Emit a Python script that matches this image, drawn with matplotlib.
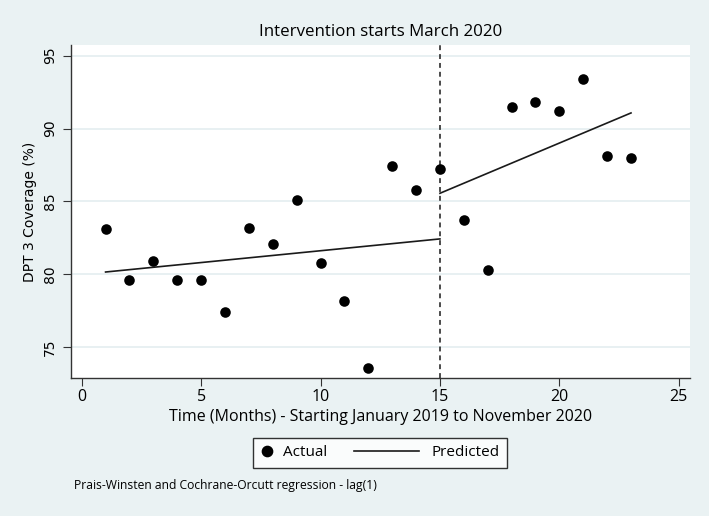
import matplotlib
matplotlib.use("Agg")
import matplotlib.pyplot as plt
from matplotlib.lines import Line2D
from matplotlib.legend_handler import HandlerLine2D

months = list(range(1, 24))
actual = [83.1, 79.6, 80.9, 79.6, 79.6, 77.4, 83.2, 82.1, 85.1, 80.8, 78.2, 73.6,
          87.4, 85.8, 87.2, 83.7, 80.3, 91.5, 91.8, 91.2, 93.4, 88.1, 88.0]
pred_x1 = [1, 15]
pred_y1 = [80.16, 82.43]
pred_x2 = [15, 23]
pred_y2 = [85.56, 91.07]
intervention = 15
xticks = [0, 5, 10, 15, 20, 25]
yticks = [75, 80, 85, 90, 95]


class LongLineHandler(HandlerLine2D):
    """Legend line that extends to the left of its (small) handle box."""
    def __init__(self, length_pt, end_inset_pt, **kw):
        super().__init__(**kw)
        self.length_pt = length_pt
        self.end_inset_pt = end_inset_pt

    def create_artists(self, legend, orig_handle, xdescent, ydescent,
                       width, height, fontsize, trans):
        x1 = -xdescent + width - self.end_inset_pt
        x0 = x1 - self.length_pt
        y = (height - ydescent) / 2
        line = Line2D([x0, x1], [y, y])
        self.update_prop(line, orig_handle, legend)
        line.set_marker("")
        line.set_transform(trans)
        return [line]


W, H = 709, 516
bg = "#EAF2F3"
fig = plt.figure(figsize=(W / 100, H / 100), dpi=100, facecolor=bg)
L, R, T, B = 70.7, 690.0, 45.0, 378.3
ax = fig.add_axes([L / W, 1 - B / H, (R - L) / W, (B - T) / H])
ax.set_facecolor("white")

for y in yticks:
    ax.axhline(y, color="#E4EEF0", lw=1.2, zorder=0)

ax.scatter(months, actual, s=58, color="black", zorder=3, label="Actual", linewidths=0)
ax.plot(pred_x1, pred_y1, color="#1a1a1a", lw=1.2, zorder=2, label="Predicted")
ax.plot(pred_x2, pred_y2, color="#1a1a1a", lw=1.2, zorder=2)
ax.axvline(intervention, color="#1a1a1a", lw=1.1, ls=(0, (3.2, 2.6)), zorder=2)

ax.set_xlim(-0.46, 25.47)
ax.set_ylim(72.87, 95.73)
ax.set_xticks(xticks)
ax.set_yticks(yticks)
ax.tick_params(axis="x", labelsize=11.5, length=6, color="#333333", pad=2)
ax.tick_params(axis="y", labelsize=10, length=6, color="#333333", pad=4)
for lab in ax.get_xticklabels():
    lab.set_family("Open Sans")
for lab in ax.get_yticklabels():
    lab.set_rotation(90)
    lab.set_va("center")
    lab.set_family("DejaVu Sans")
for s in ["top", "right"]:
    ax.spines[s].set_visible(False)
for s in ["left", "bottom"]:
    ax.spines[s].set_color("#333333")
    ax.spines[s].set_linewidth(1.0)

ax.set_title("Intervention starts March 2020", fontsize=12.2, family="Open Sans", pad=6.5)
ax.set_xlabel("Time (Months) - Starting January 2019 to November 2020",
              fontsize=11.5, family="Open Sans", va="center")
ax.xaxis.set_label_coords(0.5, (B - 416.7) / (B - T))
ax.set_ylabel("DPT 3 Coverage (%)", fontsize=10, family="DejaVu Sans", va="center")
ax.yaxis.set_label_coords((30 - L) / (R - L), 0.5)

px2pt = 72 / 100
h_actual = Line2D([], [], marker="o", color="black", ls="none", markersize=7.4)
h_pred = Line2D([], [], color="#1a1a1a", lw=1.2)
leg = fig.legend([h_actual, h_pred], ["Actual", "Predicted"], loc="center",
                 bbox_to_anchor=(380 / W, 1 - 453 / H), ncol=2, frameon=True,
                 fancybox=False, edgecolor="black", facecolor="white",
                 prop={"family": "Open Sans", "size": 11}, handlelength=0.8,
                 columnspacing=5.4, borderpad=0.5, handletextpad=0.65,
                 handler_map={h_pred: LongLineHandler(65 * px2pt, 3 * px2pt)})
leg.get_frame().set_linewidth(1.0)

fig.text(73.5 / W, 1 - 486 / H, "Prais-Winsten and Cochrane-Orcutt regression - lag(1)",
         fontsize=8.7, family="Open Sans", va="center", ha="left")

fig.savefig("out.png", dpi=100, facecolor=bg)
